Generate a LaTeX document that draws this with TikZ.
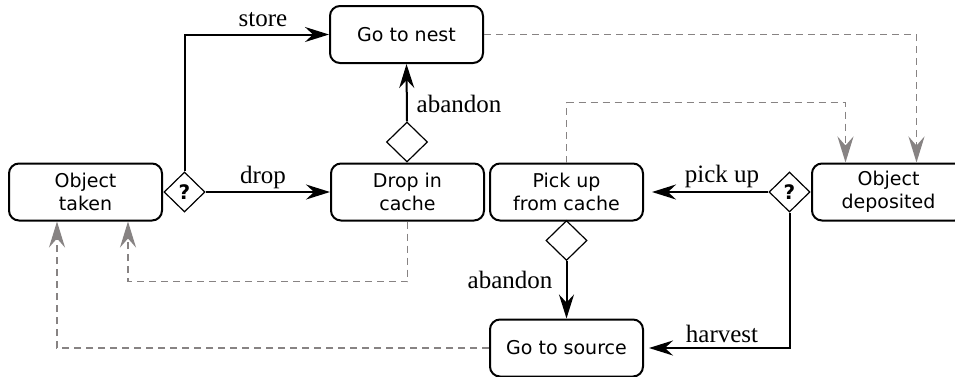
\documentclass[tikz,border=0pt]{standalone}
\usepackage{fontspec}
\setmainfont{Liberation Serif}
\newfontfamily\boxfont{DejaVu Sans}
\usetikzlibrary{arrows.meta,shapes.geometric}
\definecolor{dgray}{RGB}{135,131,131}
\tikzset{
  stepbox/.style={draw=black, line width=2pt, rounded corners=10pt, minimum width=153pt, minimum height=57pt, inner sep=0pt, align=center, font=\boxfont\fontsize{19}{23}\selectfont},
  decision/.style={draw=black, shape=diamond, line width=1.2pt, minimum width=41pt, minimum height=40pt, inner sep=0pt, font=\boxfont\bfseries\fontsize{20}{23}\selectfont},
  flow/.style={draw=black, line width=2pt, -{Stealth[length=24pt,width=15pt,inset=8pt]}},
  back/.style={draw=dgray, line width=1.7pt, dash pattern=on 7pt off 5pt, -{Stealth[length=26pt,width=16pt,inset=9pt,fill=dgray]}},
  lbl/.style={font=\fontsize{25}{28}\selectfont, inner sep=0pt}
}
\begin{document}
\begin{tikzpicture}[x=1pt,y=-1pt]
\useasboundingbox[fill=white] (0,0) rectangle (955,376);
\begin{scope}
\clip (0,0) rectangle (955,376);
% boxes
\node[stepbox] (taken) at (85.5,192) {Object\\taken};
\node[stepbox] (nest) at (406.5,34.5) {Go to nest};
\node[stepbox] (drop) at (407.5,192) {Drop in\\cache};
\node[stepbox] (pickup) at (566.5,192) {Pick up\\from cache};
\node[stepbox] (deposited) at (888.5,192) {Object\\deposited};
\node[stepbox] (source) at (566.5,348) {Go to source};
% decisions
\node[decision] (d1) at (184.5,192) {?};
\node[decision] (d2) at (407,142) {};
\node[decision] (d3) at (789.5,192) {?};
\node[decision] (d4) at (566.5,240.5) {};
% dashed returns
\draw[back] (nest.east) -| ([xshift=28pt]deposited.north);
\draw[back] (pickup.north) -- ++(0,-60) -| ([xshift=-43pt]deposited.north);
\draw[back] (drop.south) -- ++(0,60) -| ([xshift=42.5pt]taken.south);
\draw[back] (source.west) -| ([xshift=-28.5pt]taken.south);
% flows
\draw[flow] (d1.north) |- (nest.west);
\draw[flow] (d1.east) -- (drop.west);
\draw[flow] (d2.north) -- (nest.south);
\draw[flow] (d3.west) -- ([xshift=8pt]pickup.east);
\draw[flow] (d3.south) |- ([xshift=5pt]source.east);
\draw[flow] (d4.south) -- (source.north);
% labels
\node[lbl] (lstore) at (263,20) {store};
\node[lbl] (ldrop) at (263,177) {drop};
\node[lbl] (lab1) at (459,104) {abandon};
\node[lbl] (lpick) at (722,176) {pick up};
\node[lbl] (lharv) at (722,334) {harvest};
\node[lbl] (lab2) at (510,280) {abandon};
\end{scope}
\end{tikzpicture}
\end{document}
